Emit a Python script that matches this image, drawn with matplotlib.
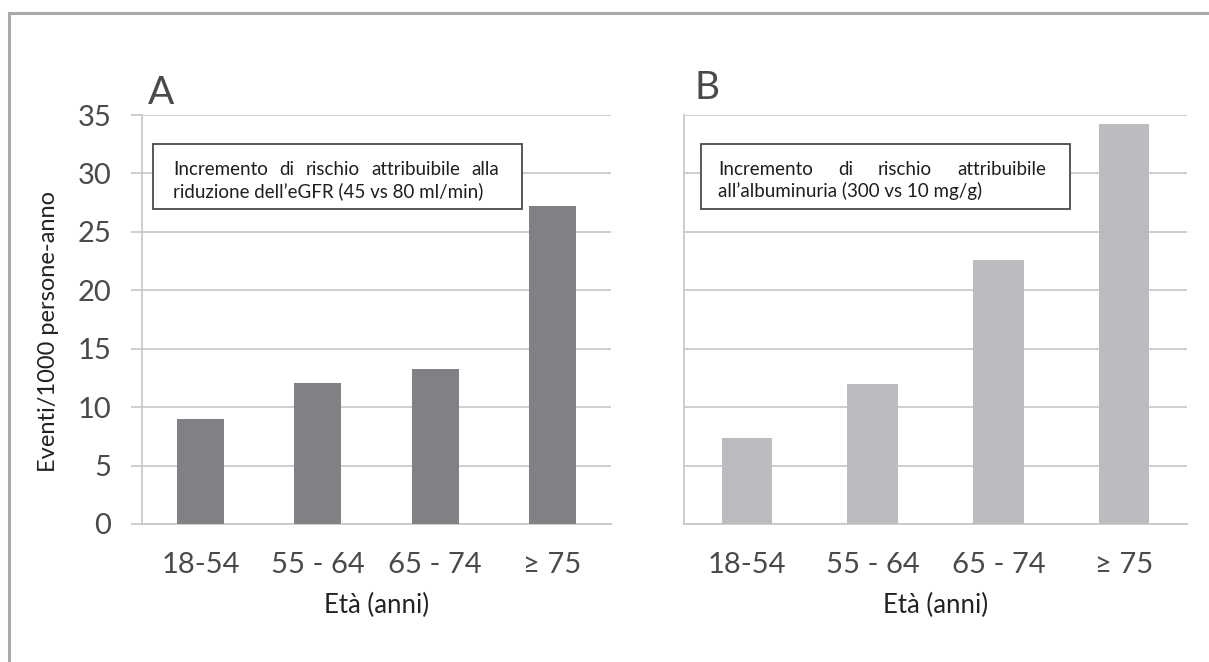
import matplotlib
matplotlib.use("Agg")
import matplotlib.pyplot as plt
from matplotlib.patches import Rectangle
from matplotlib.lines import Line2D

# Data
categories = ["18-54", "55 - 64", "65 - 74", "\u2265 75"]
events_egfr = [9.0, 12.1, 13.3, 27.2]
events_albumin = [7.4, 12.0, 22.6, 34.2]
y_ticks = [0, 5, 10, 15, 20, 25, 30, 35]
y_label = "Eventi/1000 persone-anno"
x_label = "Et\u00e0 (anni)"
note_a = (["Incremento", "di", "rischio", "attribuibile", "alla"],
          "riduzione dell\u2019eGFR (45 vs 80 ml/min)")
note_b = (["Incremento", "di", "rischio", "attribuibile"],
          "all\u2019albuminuria (300 vs 10 mg/g)")

W, H = 1209, 662
fig = plt.figure(figsize=(W / 100, H / 100), dpi=100)
fig.patch.set_facecolor("white")

GRID = "#c6c6c6"
TXT = "#4a4a4a"
TICK_FONT = dict(family=["Lato", "DejaVu Sans"], weight="normal")
BODY_FONT = ["Lato", "DejaVu Sans"]


def px_axes(left, right, top, bottom):
    return fig.add_axes([left / W, 1 - bottom / H, (right - left) / W, (bottom - top) / H])


ax_a = px_axes(142, 611, 115, 524)
ax_b = px_axes(684, 1187, 115, 524)


def style_axes(ax, show_y):
    ax.set_ylim(0, 35)
    ax.set_xlim(-0.5, 3.5)
    ax.set_yticks(y_ticks)
    ax.yaxis.grid(True, color=GRID, linewidth=1.2)
    ax.set_axisbelow(True)
    for s in ("top", "right"):
        ax.spines[s].set_visible(False)
    for s in ("left", "bottom"):
        ax.spines[s].set_color(GRID)
        ax.spines[s].set_linewidth(1.2)
    ax.set_xticks(range(len(categories)))
    ax.set_xticklabels(categories, fontsize=21, color=TXT, **TICK_FONT)
    ax.tick_params(axis="x", length=0, pad=20)
    if show_y:
        ax.set_yticklabels([str(v) for v in y_ticks], fontsize=21, color=TXT, **TICK_FONT)
        ax.tick_params(axis="y", length=8, width=1.2, color=GRID, pad=14)
    else:
        ax.tick_params(axis="y", length=0, labelleft=False)
    ax.set_xlabel(x_label, fontsize=18.5, color="#222222", family=BODY_FONT, labelpad=11)


style_axes(ax_a, True)
style_axes(ax_b, False)

x = list(range(len(categories)))
ax_a.bar(x, events_egfr, width=0.4, color="#808185", zorder=3)
ax_b.bar(x, events_albumin, width=0.4, color="#bbbcc0", zorder=3)

ax_a.set_ylabel(y_label, fontsize=17, color="#222222", family=BODY_FONT)
ax_a.yaxis.set_label_coords(-0.178, 0.47)

ax_a.text(0.012, 1.027, "A", transform=ax_a.transAxes, fontsize=28, color=TXT,
          ha="left", va="baseline", **TICK_FONT)
ax_b.text(0.021, 1.039, "B", transform=ax_b.transAxes, fontsize=28, color=TXT,
          ha="left", va="baseline", **TICK_FONT)

fig.canvas.draw()
renderer = fig.canvas.get_renderer()


def note_box(ax, box, words, second, x0, x1, y1, y2):
    bx0, bx1, by0, by1 = box
    ax.add_patch(Rectangle((bx0, by0), bx1 - bx0, by1 - by0, transform=ax.transAxes,
                           facecolor="white", edgecolor="#4a4a4a", linewidth=1.3,
                           zorder=5, clip_on=False))
    kw = dict(fontsize=13.5, color="#1e1e1e", family=BODY_FONT, va="baseline",
              ha="left", zorder=6)
    texts = [ax.text(0, y1, w, transform=ax.transAxes, **kw) for w in words]
    widths = [t.get_window_extent(renderer).width for t in texts]
    p0 = ax.transAxes.transform((x0, y1))[0]
    p1 = ax.transAxes.transform((x1, y1))[0]
    gap = (p1 - p0 - sum(widths)) / (len(words) - 1)
    inv = ax.transAxes.inverted()
    pos = p0
    for t, w in zip(texts, widths):
        t.set_x(inv.transform((pos, 0))[0])
        pos += w + gap
    ax.text(x0, y2, second, transform=ax.transAxes, **kw)


note_box(ax_a, (0.0235, 0.8102, 0.770, 0.929), note_a[0], note_a[1],
         0.0661, 0.7612, 0.8533, 0.7995)
note_box(ax_b, (0.0338, 0.7674, 0.770, 0.929), note_b[0], note_b[1],
         0.0676, 0.7197, 0.8533, 0.7995)

# Outer frame (top and left edges)
frame_kw = dict(color="#a9a9a9", linewidth=2.2, transform=fig.transFigure)
fig.add_artist(Line2D([9 / W, 1.0], [1 - 13 / H, 1 - 13 / H], **frame_kw))
fig.add_artist(Line2D([9 / W, 9 / W], [1 - 13 / H, 0.0], **frame_kw))

fig.savefig("out.png", dpi=100, facecolor="white")
